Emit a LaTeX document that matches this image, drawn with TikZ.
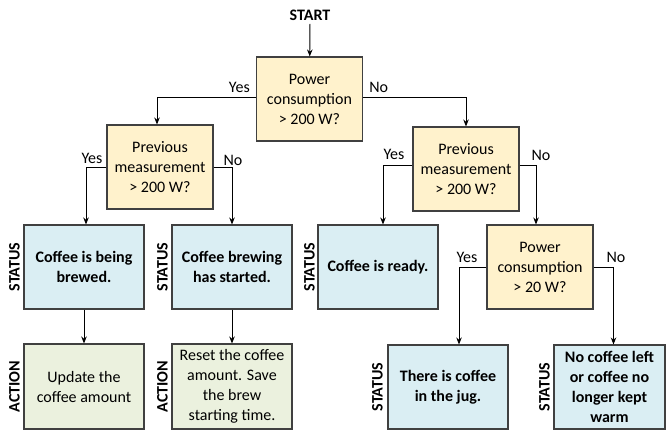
\documentclass[tikz,border=0pt]{standalone}
\usepackage{fontspec}
\setmainfont{Carlito}
\usetikzlibrary{arrows.meta,positioning}
\definecolor{decfill}{HTML}{FFF2CC}
\definecolor{statfill}{HTML}{DAEEF3}
\definecolor{actfill}{HTML}{EBF1DE}
\definecolor{boxline}{HTML}{404040}
\tikzset{
  base/.style={draw=boxline, line width=1.1pt, align=center, inner sep=2pt,
    font=\fontsize{16}{20}\selectfont},
  decision/.style={base, fill=decfill, minimum width=106pt, minimum height=84pt},
  statusbox/.style={base, fill=statfill, minimum width=120pt, minimum height=84pt,
    font=\fontsize{16}{20}\selectfont\bfseries},
  actionbox/.style={base, fill=actfill, minimum width=120pt, minimum height=85pt},
  sidelabel/.style={rotate=90, font=\fontsize{16}{20}\selectfont\bfseries, inner sep=0pt},
  conn/.style={draw=black, line width=0.9pt, -{Stealth[length=7pt,width=5.5pt]}},
  branch/.style={font=\fontsize{16}{20}\selectfont, inner sep=1pt},
}
\begin{document}
\begin{tikzpicture}[x=1pt,y=-1pt]
\useasboundingbox (0,0) rectangle (668,434);
\node[font=\fontsize{16}{20}\selectfont\bfseries] (start) at (310,15) {START};
\node[decision] (d1) at (309.5,99) {Power\\consumption\\> 200 W?};
\node[decision] (d2) at (160,167) {Previous\\measurement\\> 200 W?};
\node[decision] (d3) at (466,169) {Previous\\measurement\\> 200 W?};
\node[statusbox] (s1) at (84,267) {Coffee is being\\brewed.};
\node[statusbox] (s2) at (232,267) {Coffee brewing\\has started.};
\node[statusbox] (s3) at (378,267) {Coffee is ready.};
\node[decision] (d4) at (540,267) {Power\\consumption\\> 20 W?};
\node[actionbox] (a1) at (84,386.5) {Update the\\coffee amount};
\node[actionbox] (a2) at (232,386.5) {Reset the coffee\\amount. Save\\the brew\\starting time.};
\node[statusbox] (s4) at (448,387) {There is coffee\\in the jug.};
\node[statusbox, minimum width=111pt] (s5) at (609.5,387) {No coffee left\\or coffee no\\longer kept\\warm};

\node[sidelabel] (l1) at ([xshift=-9pt]s1.west) {STATUS};
\node[sidelabel] (l2) at ([xshift=-9pt]s2.west) {STATUS};
\node[sidelabel] (l3) at ([xshift=-8pt]s3.west) {STATUS};
\node[sidelabel] (l4) at ([xshift=-10pt]s4.west) {STATUS};
\node[sidelabel] (l5) at ([xshift=-9pt]s5.west) {STATUS};
\node[sidelabel] (l6) at ([xshift=-9pt]a1.west) {ACTION};
\node[sidelabel] (l7) at ([xshift=-9pt]a2.west) {ACTION};

\draw[conn] (start) -- (d1);
\draw[conn] ([yshift=2pt]d1.west) -| ([xshift=-3pt]d2.north);
\draw[conn] ([yshift=2pt]d1.east) -| (d3.north);
\draw[conn] (d2.west) -| ([xshift=2pt]s1.north);
\draw[conn] (d2.east) -| (s2.north);
\draw[conn] ([yshift=4pt]d3.west) -| ([xshift=5pt]s3.north);
\draw[conn] ([yshift=4pt]d3.east) -| ([xshift=-4pt]d4.north);
\draw[conn] (d4.west) -| ([xshift=11pt]s4.north);
\draw[conn] (d4.east) -| ([xshift=4pt]s5.north);
\draw[conn] (s1) -- (a1);
\draw[conn] (s2) -- (a2);

\node[branch, anchor=south east] (y1) at ([xshift=-5pt,yshift=5pt]d1.west) {Yes};
\node[branch, anchor=south west] (n1) at ([xshift=5pt,yshift=5pt]d1.east) {No};
\node[branch] (y2) at (92,158) {Yes};
\node[branch] (n2) at (233,160) {No};
\node[branch] (y3) at (394,154) {Yes};
\node[branch] (n3) at (541,155) {No};
\node[branch] (y4) at (467,257) {Yes};
\node[branch] (n4) at (616,257) {No};
\end{tikzpicture}
\end{document}
